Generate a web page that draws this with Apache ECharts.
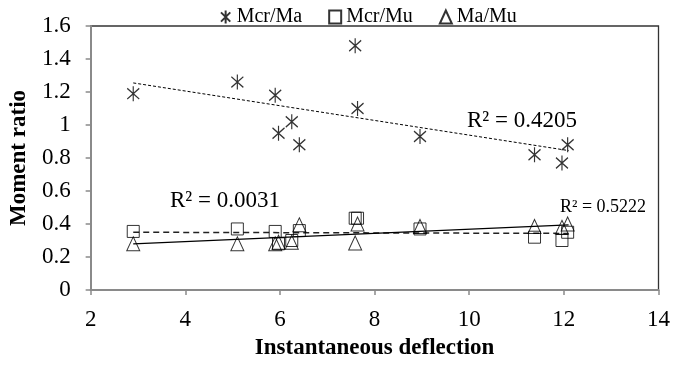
<!DOCTYPE html>
<html><head><meta charset="utf-8">
<script src="https://cdn.jsdelivr.net/npm/echarts@6/dist/echarts.min.js"></script>
<style>html,body{margin:0;padding:0;background:#fff}#c{width:673px;height:365px}</style>
</head><body><div id="c"></div>
<script>
var deflection = [2.9, 5.1, 5.9, 5.97, 6.25, 6.41, 7.59, 7.64, 8.96, 11.38, 11.96, 12.08];
var mcrMa = [1.19, 1.26, 1.18, 0.95, 1.02, 0.88, 1.48, 1.10, 0.93, 0.82, 0.77, 0.88];
var mcrMu = [0.355, 0.37, 0.355, 0.28, 0.30, 0.36, 0.435, 0.435, 0.37, 0.32, 0.30, 0.35];
var maMu = [0.28, 0.28, 0.28, 0.29, 0.29, 0.395, 0.285, 0.40, 0.385, 0.385, 0.38, 0.40];
var trendMcrMa = [[2.9, 1.255], [12.1, 0.845]];
var trendMcrMu = [[2.9, 0.35], [12.1, 0.343]];
var trendMaMu = [[2.9, 0.28], [12.1, 0.395]];
var seriesNames = ['Mcr/Ma', 'Mcr/Mu', 'Ma/Mu'];
var r2Labels = ['R² = 0.4205', 'R² = 0.0031', 'R² = 0.5222'];
var xTicks = [2, 4, 6, 8, 10, 12, 14];
var yTicks = [0, 0.2, 0.4, 0.6, 0.8, 1, 1.2, 1.4, 1.6];

function pairs(xs, ys) { return xs.map(function (x, i) { return [x, ys[i]]; }); }

var FONT = '"Liberation Serif", "Times New Roman", serif';
var asterisk = 'path://M0,2 L10,12 M0,12 L10,2 M5,0 L5,14';
var hollow = { color: 'transparent', borderColor: '#000', borderWidth: 1 };

var chart = echarts.init(document.getElementById('c'), null, { renderer: 'canvas' });
chart.setOption({
  animation: false,
  textStyle: { fontFamily: FONT },
  grid: { left: 90, right: 11, top: 26, bottom: 73, show: true, borderColor: '#333', borderWidth: 1.3, backgroundColor: 'transparent' },
  legend: {
    left: 215, top: 2, itemWidth: 12, itemHeight: 13, itemGap: 26,
    textStyle: { fontFamily: FONT, fontSize: 20, color: '#000' },
    data: [
      { name: seriesNames[0], icon: asterisk },
      { name: seriesNames[1], icon: 'rect' },
      { name: seriesNames[2], icon: 'triangle' }
    ]
  },
  xAxis: {
    type: 'value', min: xTicks[0], max: xTicks[xTicks.length - 1], interval: 2,
    name: 'Instantaneous deflection', nameLocation: 'middle', nameGap: 47,
    nameTextStyle: { fontFamily: FONT, fontSize: 23, fontWeight: 'bold', color: '#000' },
    axisLine: { show: true, lineStyle: { color: '#8a8a8a', width: 2 } },
    axisTick: { show: true, inside: false, length: 5, lineStyle: { color: '#8a8a8a', width: 1.5 } },
    axisLabel: { fontFamily: FONT, fontSize: 23, color: '#000', margin: 18 },
    splitLine: { show: false }
  },
  yAxis: {
    type: 'value', min: yTicks[0], max: yTicks[yTicks.length - 1], interval: 0.2,
    name: 'Moment ratio', nameLocation: 'middle', nameGap: 57,
    nameTextStyle: { fontFamily: FONT, fontSize: 23, fontWeight: 'bold', color: '#000' },
    axisLine: { show: true, lineStyle: { color: '#8a8a8a', width: 2 } },
    axisTick: { show: true, inside: false, length: 5, lineStyle: { color: '#8a8a8a', width: 1.5 } },
    axisLabel: { fontFamily: FONT, fontSize: 23, color: '#000', margin: 20, formatter: function (v) { return String(+v.toFixed(1)); } },
    splitLine: { show: false }
  },
  series: [
    { name: 'trend1', type: 'line', data: trendMcrMa, symbol: 'none', lineStyle: { color: '#000', width: 1, type: [3, 2] }, silent: true, z: 1 },
    { name: 'trend2', type: 'line', data: trendMcrMu, symbol: 'none', lineStyle: { color: '#222', width: 1.5, type: [6, 4] }, silent: true, z: 1 },
    { name: 'trend3', type: 'line', data: trendMaMu, symbol: 'none', lineStyle: { color: '#000', width: 1.2 }, silent: true, z: 1 },
    { name: seriesNames[0], type: 'scatter', data: pairs(deflection, mcrMa), symbol: asterisk, symbolSize: [12, 15], itemStyle: { color: 'transparent', borderColor: '#000', borderWidth: 1.3 }, z: 3 },
    { name: seriesNames[1], type: 'scatter', data: pairs(deflection, mcrMu), symbol: 'rect', symbolSize: [12, 12], itemStyle: hollow, z: 3 },
    { name: seriesNames[2], type: 'scatter', data: pairs(deflection, maMu), symbol: 'triangle', symbolSize: [13, 14], itemStyle: hollow, z: 3 }
  ],
  graphic: [
    { type: 'text', left: 467, top: 109, style: { text: r2Labels[0], fontFamily: FONT, fontSize: 23, fill: '#000' } },
    { type: 'text', left: 170, top: 189, style: { text: r2Labels[1], fontFamily: FONT, fontSize: 23, fill: '#000' } },
    { type: 'text', left: 560, top: 198, style: { text: r2Labels[2], fontFamily: FONT, fontSize: 18, fill: '#000' } }
  ]
});
</script>
</body></html>
